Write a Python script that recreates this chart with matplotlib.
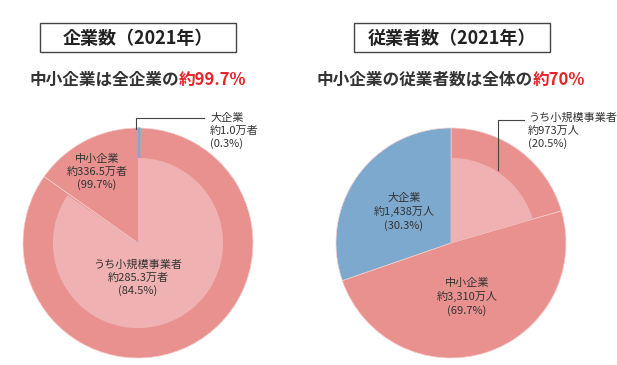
import matplotlib
matplotlib.use("Agg")
import matplotlib.pyplot as plt
from matplotlib.patches import Rectangle

plt.rcParams["font.family"] = ["Noto Sans CJK JP", "DejaVu Sans"]

# 企業数（2021年）: 大企業 / 中小企業 / うち小規模事業者
firm_labels = ["大企業", "中小企業", "うち小規模事業者"]
firm_counts = [1.0, 336.5, 285.3]          # 万者
firm_shares = [0.3, 99.7, 84.5]            # %
# 従業者数（2021年）
emp_labels = ["大企業", "中小企業", "うち小規模事業者"]
emp_counts = ["1,438", "3,310", "973"]     # 万人
emp_shares = [30.3, 69.7, 20.5]            # %

DARK = "#E8918F"
LIGHT = "#EFB1B1"
BLUE = "#7EA9CF"
RED = "#E5252A"
TXT = "#333333"

W, H = 617, 365
fig = plt.figure(figsize=(W / 100, H / 100), dpi=100)
ax = fig.add_axes([0, 0, 1, 1])

R = 115
INNER = 0.74


def y(v):
    return H - v


# ---- left pie: 企業数 ----
cL = (138, y(243))
big, sme, small = firm_shares
w, _ = ax.pie([big, small, sme - small], colors=[BLUE, DARK, DARK], startangle=90,
              counterclock=False, center=cL, radius=R,
              wedgeprops=dict(edgecolor="#F6D0CE", linewidth=0.5))
w[0].set_edgecolor(BLUE)
w[0].set_linewidth(0.8)
w[0].set_zorder(1.5)
wi, _ = ax.pie([small, 100 - small], colors=[LIGHT, "none"], startangle=90,
               counterclock=False, center=cL, radius=R * INNER,
               wedgeprops=dict(linewidth=0))
for p in wi:
    p.set_zorder(2)

# ---- right pie: 従業者数 ----
cR = (451, y(243))
big, sme, small = emp_shares
ax.pie([small, sme - small, big], colors=[DARK, DARK, BLUE], startangle=90,
       counterclock=False, center=cR, radius=R,
       wedgeprops=dict(edgecolor="#F6D0CE", linewidth=0.5))
ax.pie([small, 100 - small], colors=[LIGHT, "none"], startangle=90,
       counterclock=False, center=cR, radius=R * INNER,
       wedgeprops=dict(linewidth=0))

ax.set_xlim(0, W)
ax.set_ylim(0, H)
ax.set_aspect("equal")
ax.axis("off")

# title boxes
for x0, x1, t in [(40, 236, "企業数（2021年）"), (354, 550, "従業者数（2021年）")]:
    ax.add_patch(Rectangle((x0, y(52)), x1 - x0, 29, fill=False,
                           edgecolor="#444444", linewidth=1.0))
    ax.text((x0 + x1) / 2, y(38), t, ha="center", va="center",
            fontsize=13, fontweight="bold", color="#222222")


# subtitles: black part + red part, centred together
def subtitle(xc, black, red):
    t1 = ax.text(0, 0, black, fontsize=12, fontweight="bold", color=TXT)
    t2 = ax.text(0, 0, red, fontsize=12, fontweight="bold", color=RED)
    fig.canvas.draw()
    r = fig.canvas.get_renderer()
    w1 = t1.get_window_extent(r).width
    w2 = t2.get_window_extent(r).width
    x0 = xc - (w1 + w2) / 2
    t1.set_position((x0, y(80)))
    t2.set_position((x0 + w1, y(80)))
    for t in (t1, t2):
        t.set_va("center")


subtitle(138, "中小企業は全企業の", f"約{firm_shares[1]}%")
subtitle(451, "中小企業の従業者数は全体の", "約70%")

fs = 8
kw = dict(fontsize=fs, color=TXT, linespacing=1.3, va="center", zorder=3)
# left labels
ax.text(97, y(172), f"{firm_labels[1]}\n約{firm_counts[1]}万者\n({firm_shares[1]}%)",
        ha="center", **kw)
ax.text(138, y(278), f"{firm_labels[2]}\n約{firm_counts[2]}万者\n({firm_shares[2]}%)",
        ha="center", **kw)
ax.text(210, y(131), f"{firm_labels[0]}\n約{firm_counts[0]}万者\n({firm_shares[0]}%)",
        ha="left", **kw)
ax.plot([136, 136, 204], [y(129), y(118), y(118)], color="#444444", lw=0.8)

# right labels
ax.text(404, y(212), f"{emp_labels[0]}\n約{emp_counts[0]}万人\n({emp_shares[0]}%)",
        ha="center", **kw)
ax.text(467, y(297), f"{emp_labels[1]}\n約{emp_counts[1]}万人\n({emp_shares[1]}%)",
        ha="center", **kw)
ax.text(528, y(131), f"{emp_labels[2]}\n約{emp_counts[2]}万人\n({emp_shares[2]}%)",
        ha="left", **kw)
ax.plot([498, 498, 524], [y(170), y(120), y(120)], color="#444444", lw=0.8, zorder=3)

fig.savefig("out.png", dpi=100)
